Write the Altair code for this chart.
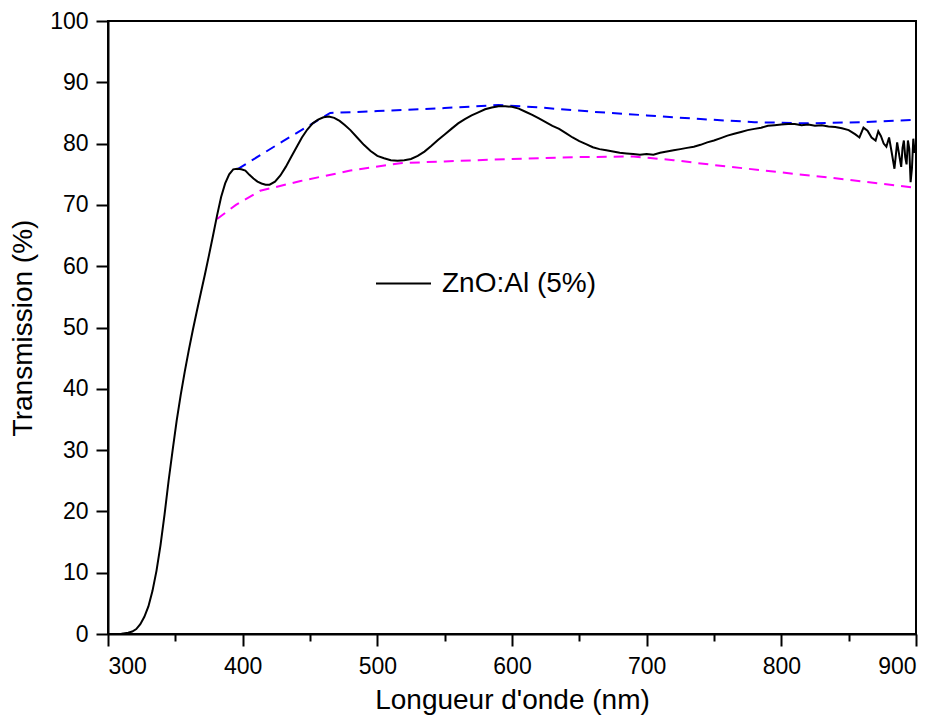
import altair as alt
import pandas as pd

# Measured transmission curve (wavelength nm, transmission %)
wl = [300, 305, 310, 315, 318, 321, 324, 327, 330, 333, 336, 339, 342, 345, 348, 351, 354, 357,
      360, 363, 366, 369, 372, 375, 378, 381, 384, 387, 390, 393, 396, 399, 402, 405, 408, 411,
      414, 417, 420, 424, 428, 432, 436, 440, 444, 448, 452, 456, 460, 464, 468, 472, 476, 480,
      485, 490, 495, 500, 505, 510, 515, 520, 525, 530, 535, 540, 545, 550, 555, 560, 565, 570,
      575, 580, 585, 590, 595, 600, 605, 610, 615, 620, 625, 630, 635, 640, 645, 650, 655, 660,
      665, 670, 675, 680, 685, 690, 695, 700, 705, 710, 715, 720, 725, 730, 735, 740, 745, 750,
      755, 760, 765, 770, 775, 780, 785, 790, 795, 800, 805, 810, 815, 820, 825, 830, 835, 840,
      845, 850, 855, 858, 861, 864, 867, 870, 872, 874, 876, 878, 880, 882, 884, 886, 888, 889,
      890, 891, 892, 893, 894, 895, 896, 897, 898, 899, 900]
trans = [0.0, 0.0, 0.05, 0.2, 0.4, 0.8, 1.6, 2.8, 4.5, 7.0, 10.3, 14.5, 19.5, 25.0, 30.0, 34.8,
         39.0, 42.8, 46.3, 49.6, 52.7, 55.7, 58.7, 61.8, 65.0, 68.3, 71.3, 73.5, 75.0, 75.8, 75.9,
         75.8, 75.6, 74.9, 74.3, 73.8, 73.5, 73.3, 73.3, 73.8, 74.8, 76.2, 77.8, 79.4, 81.0, 82.3,
         83.3, 83.9, 84.3, 84.4, 84.2, 83.7, 83.0, 82.2, 81.0, 79.8, 78.8, 78.0, 77.6, 77.3, 77.2,
         77.3, 77.5, 78.0, 78.7, 79.6, 80.6, 81.5, 82.4, 83.3, 84.0, 84.6, 85.1, 85.6, 85.9, 86.1,
         86.1, 86.0, 85.7, 85.2, 84.7, 84.1, 83.5, 82.9, 82.4, 81.7, 81.0, 80.4, 79.9, 79.4, 79.1,
         78.9, 78.7, 78.5, 78.4, 78.3, 78.2, 78.3, 78.2, 78.5, 78.7, 78.9, 79.1, 79.3, 79.5, 79.8,
         80.2, 80.5, 80.9, 81.3, 81.6, 81.9, 82.2, 82.4, 82.6, 82.9, 83.0, 83.1, 83.2, 83.2, 83.0,
         83.1, 82.9, 83.0, 82.8, 82.7, 82.5, 82.2, 81.5, 81.0, 82.6, 82.1, 81.0, 80.5, 82.0, 81.2,
         80.0, 79.5, 81.0, 78.5, 75.9, 80.2, 77.5, 76.2, 79.3, 80.5, 77.8, 76.6, 80.5, 79.2, 73.7,
         76.0, 80.8, 78.5, 79.5]

# Upper envelope (Tmax), blue dashed
env_max_wl = [396, 430, 465, 500, 550, 590, 620, 660, 700, 740, 780, 820, 860, 900]
env_max_t = [75.8, 80.4, 85.0, 85.3, 85.8, 86.3, 85.9, 85.2, 84.6, 84.0, 83.5, 83.3, 83.5, 83.9]

# Lower envelope (Tmin), magenta dashed
env_min_wl = [381, 395, 413, 443, 480, 517, 550, 600, 650, 690, 720, 750, 800, 850, 900]
env_min_t = [67.7, 70.0, 72.3, 73.9, 75.6, 76.8, 77.1, 77.5, 77.8, 77.9, 77.3, 76.5, 75.3, 74.1, 72.8]

series_name = "ZnO:Al (5%)"

df = pd.DataFrame({"wl": wl, "t": trans, "series": series_name})
dmax = pd.DataFrame({"wl": env_max_wl, "t": env_max_t})
dmin = pd.DataFrame({"wl": env_min_wl, "t": env_min_t})

FONT = "Liberation Sans"

x_enc = alt.X("wl:Q", scale=alt.Scale(domain=[300, 900], nice=False),
              axis=alt.Axis(title="Longueur d'onde (nm)",
                            values=list(range(300, 901, 50)),
                            labelExpr="datum.value % 100 === 0 ? datum.label : ''",
                            tickSize={"condition": {"test": "datum.value % 100 !== 0", "value": 7}, "value": 12},
                            grid=False, labelPadding=9, titlePadding=8))
y_enc = alt.Y("t:Q", scale=alt.Scale(domain=[0, 100], nice=False),
              axis=alt.Axis(title="Transmission (%)",
                            values=list(range(0, 101, 5)),
                            labelExpr="datum.value % 10 === 0 ? datum.label : ''",
                            tickSize={"condition": {"test": "datum.value % 10 !== 0", "value": 7}, "value": 12},
                            grid=False, labelPadding=8, titlePadding=12))

curve = alt.Chart(df).mark_line(strokeWidth=2).encode(
    x=x_enc, y=y_enc,
    color=alt.Color("series:N",
                    scale=alt.Scale(domain=[series_name], range=["black"]),
                    legend=alt.Legend(title=None, orient="none", legendX=267, legendY=234,
                                      symbolType="stroke", symbolSize=3025, symbolStrokeWidth=2,
                                      labelFontSize=28, labelFont=FONT, labelColor="black",
                                      labelOffset=10)),
)

upper = alt.Chart(dmax).mark_line(strokeWidth=2, color="#0000ff", strokeDash=[10, 7]).encode(
    x="wl:Q", y="t:Q")
lower = alt.Chart(dmin).mark_line(strokeWidth=2, color="#ff00ff", strokeDash=[10, 7]).encode(
    x="wl:Q", y="t:Q")

chart = alt.layer(upper, lower, curve).properties(
    width=808, height=613,
    background="white",
    autosize=alt.AutoSizeParams(type="none"),
    padding={"left": 100, "top": 13, "right": 15, "bottom": 82},
).configure_view(stroke="black", strokeWidth=2).configure_axis(
    domainColor="black", domainWidth=2, tickColor="black", tickWidth=2,
    labelFont=FONT, labelFontSize=23, labelColor="black",
    titleFont=FONT, titleFontSize=28, titleColor="black", titleFontWeight="normal",
)

chart.save("out.html", embed_options={"renderer": "svg", "actions": False})
